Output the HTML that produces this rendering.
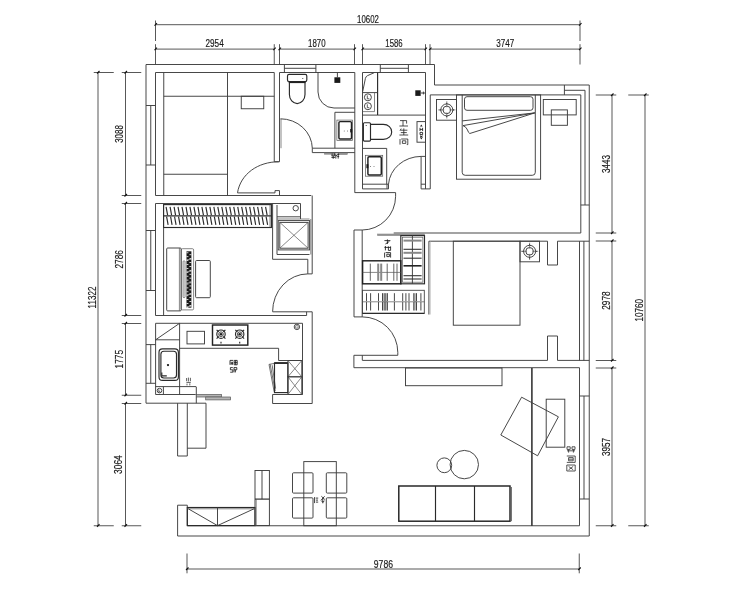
<!DOCTYPE html>
<html><head><meta charset="utf-8"><title>Floor plan</title>
<style>
html,body{margin:0;padding:0;background:#fff;}
svg{display:block;font-family:"Liberation Sans",sans-serif;filter:grayscale(1);}
.w{fill:none;stroke:#3e3e3e;stroke-width:0.95;}
.w2{fill:none;stroke:#2a2a2a;stroke-width:1.15;}
.w3{fill:none;stroke:#222;stroke-width:1.45;}
.wt{fill:none;stroke:#555;stroke-width:0.7;}
.wd{fill:none;stroke:#777;stroke-width:0.9;}
.d{fill:none;stroke:#3a3a3a;stroke-width:0.85;}
.h{fill:none;stroke:#2a2a2a;stroke-width:1.15;}
.f{fill:#1a1a1a;stroke:none;}
.g{fill:#9a9a9a;stroke:#777;stroke-width:0.5;}
.gf{fill:#b5b5b5;stroke:#555;stroke-width:0.7;}
.gb{fill:none;stroke:#555;stroke-width:0.9;}
.gb2{fill:none;stroke:#333;stroke-width:1.1;}
.gb3{fill:none;stroke:#888;stroke-width:2.0;}
.gbt{fill:none;stroke:#333;stroke-width:0.9;stroke-dasharray:8 0.9 9 0;}
.wdd{fill:none;stroke:#444;stroke-width:0.9;}
.gfill{fill:#bbb;stroke:none;}
.tiny path{fill:none;stroke:#2a2a2a;stroke-width:0.75;}
.tiny2 path{fill:none;stroke:#1a1a1a;stroke-width:0.85;}
.wt2{fill:none;stroke:#333;stroke-width:0.7;}
.tk{fill:none;stroke:#111;stroke-width:1.1;}
.vf{fill:none;stroke:#aaa;stroke-width:0.6;}
.gb4{fill:none;stroke:#222;stroke-width:1.6;}
.cjk path{fill:none;stroke:#222;stroke-width:0.8;}
.cjk2 path{fill:none;stroke:#2a2a2a;stroke-width:0.8;}
text{fill:#1a1a1a;stroke:#1a1a1a;stroke-width:0.2;}
.txt{opacity:0.999;}
</style></head>
<body>
<svg width="740" height="593" viewBox="0 0 740 593">
<rect x="0" y="0" width="740" height="593" fill="#fff"/>
<line class="d" x1="155.5" y1="24.7" x2="580" y2="24.7"/>
<line class="d" x1="155.5" y1="49.1" x2="274.25" y2="49.1"/>
<line class="d" x1="279.5" y1="49.1" x2="354.5" y2="49.1"/>
<line class="d" x1="362.5" y1="49.1" x2="425.5" y2="49.1"/>
<line class="d" x1="430" y1="49.1" x2="580" y2="49.1"/>
<line class="d" x1="155.5" y1="20.5" x2="155.5" y2="41"/>
<line class="tk" x1="154.5" y1="25.7" x2="157.0" y2="23.2"/>
<line class="d" x1="580" y1="20.5" x2="580" y2="41"/>
<line class="tk" x1="579.0" y1="25.7" x2="581.5" y2="23.2"/>
<line class="d" x1="155.5" y1="44.2" x2="155.5" y2="64.5"/>
<line class="tk" x1="154.5" y1="50.1" x2="157.0" y2="47.6"/>
<line class="d" x1="274.25" y1="44.2" x2="274.25" y2="64.5"/>
<line class="tk" x1="273.25" y1="50.1" x2="275.75" y2="47.6"/>
<line class="d" x1="279.5" y1="44.2" x2="279.5" y2="64.5"/>
<line class="tk" x1="278.5" y1="50.1" x2="281.0" y2="47.6"/>
<line class="d" x1="354.5" y1="44.2" x2="354.5" y2="64.5"/>
<line class="tk" x1="353.5" y1="50.1" x2="356.0" y2="47.6"/>
<line class="d" x1="362.5" y1="44.2" x2="362.5" y2="64.5"/>
<line class="tk" x1="361.5" y1="50.1" x2="364.0" y2="47.6"/>
<line class="d" x1="425.5" y1="44.2" x2="425.5" y2="64.5"/>
<line class="tk" x1="424.5" y1="50.1" x2="427.0" y2="47.6"/>
<line class="d" x1="430" y1="44.2" x2="430" y2="64.5"/>
<line class="tk" x1="429.0" y1="50.1" x2="431.5" y2="47.6"/>
<line class="d" x1="580" y1="44.2" x2="580" y2="64.5"/>
<line class="tk" x1="579.0" y1="50.1" x2="581.5" y2="47.6"/>
<text class="txt" x="368" y="22.6" text-anchor="middle" textLength="21.8" lengthAdjust="spacingAndGlyphs" font-size="11.7">10602</text>
<text class="txt" x="214.6" y="46.6" text-anchor="middle" textLength="18.2" lengthAdjust="spacingAndGlyphs" font-size="11.7">2954</text>
<text class="txt" x="316.8" y="46.6" text-anchor="middle" textLength="17.5" lengthAdjust="spacingAndGlyphs" font-size="11.7">1870</text>
<text class="txt" x="394" y="46.6" text-anchor="middle" textLength="17.3" lengthAdjust="spacingAndGlyphs" font-size="11.7">1586</text>
<text class="txt" x="505.2" y="46.6" text-anchor="middle" textLength="18" lengthAdjust="spacingAndGlyphs" font-size="11.7">3747</text>
<line class="d" x1="98" y1="72.5" x2="98" y2="525.75"/>
<line class="d" x1="125.5" y1="72.5" x2="125.5" y2="195.5"/>
<line class="d" x1="125.5" y1="203.5" x2="125.5" y2="315.5"/>
<line class="d" x1="125.5" y1="323.5" x2="125.5" y2="395.25"/>
<line class="d" x1="125.5" y1="403.5" x2="125.5" y2="525.75"/>
<line class="d" x1="93.75" y1="72.5" x2="113.75" y2="72.5"/>
<line class="tk" x1="97.0" y1="73.5" x2="99.5" y2="71.0"/>
<line class="d" x1="93.75" y1="525.75" x2="113.75" y2="525.75"/>
<line class="tk" x1="97.0" y1="526.75" x2="99.5" y2="524.25"/>
<line class="d" x1="121.75" y1="72.5" x2="141.25" y2="72.5"/>
<line class="tk" x1="124.5" y1="73.5" x2="127.0" y2="71.0"/>
<line class="d" x1="121.75" y1="195.5" x2="141.25" y2="195.5"/>
<line class="tk" x1="124.5" y1="196.5" x2="127.0" y2="194.0"/>
<line class="d" x1="121.75" y1="203.5" x2="141.25" y2="203.5"/>
<line class="tk" x1="124.5" y1="204.5" x2="127.0" y2="202.0"/>
<line class="d" x1="121.75" y1="315.5" x2="141.25" y2="315.5"/>
<line class="tk" x1="124.5" y1="316.5" x2="127.0" y2="314.0"/>
<line class="d" x1="121.75" y1="323.5" x2="141.25" y2="323.5"/>
<line class="tk" x1="124.5" y1="324.5" x2="127.0" y2="322.0"/>
<line class="d" x1="121.75" y1="395.25" x2="141.25" y2="395.25"/>
<line class="tk" x1="124.5" y1="396.25" x2="127.0" y2="393.75"/>
<line class="d" x1="121.75" y1="403.5" x2="141.25" y2="403.5"/>
<line class="tk" x1="124.5" y1="404.5" x2="127.0" y2="402.0"/>
<line class="d" x1="121.75" y1="525.75" x2="141.25" y2="525.75"/>
<line class="tk" x1="124.5" y1="526.75" x2="127.0" y2="524.25"/>
<text class="txt" x="95.6" y="297.5" text-anchor="middle" textLength="22" lengthAdjust="spacingAndGlyphs" font-size="11.7" transform="rotate(-90 95.6 297.5)">11322</text>
<text class="txt" x="123.2" y="134" text-anchor="middle" textLength="17.6" lengthAdjust="spacingAndGlyphs" font-size="11.7" transform="rotate(-90 123.2 134)">3088</text>
<text class="txt" x="123.2" y="259.3" text-anchor="middle" textLength="18.5" lengthAdjust="spacingAndGlyphs" font-size="11.7" transform="rotate(-90 123.2 259.3)">2786</text>
<text class="txt" x="122.8" y="359.2" text-anchor="middle" textLength="18.5" lengthAdjust="spacingAndGlyphs" font-size="11.7" transform="rotate(-90 122.8 359.2)">1775</text>
<text class="txt" x="122.4" y="464.6" text-anchor="middle" textLength="18.7" lengthAdjust="spacingAndGlyphs" font-size="11.7" transform="rotate(-90 122.4 464.6)">3064</text>
<line class="d" x1="645" y1="95" x2="645" y2="525.75"/>
<line class="d" x1="612" y1="95" x2="612" y2="233"/>
<line class="d" x1="612" y1="241" x2="612" y2="360.5"/>
<line class="d" x1="612" y1="368" x2="612" y2="525.75"/>
<line class="d" x1="595.75" y1="95" x2="616.25" y2="95"/>
<line class="tk" x1="611.0" y1="96.0" x2="613.5" y2="93.5"/>
<line class="d" x1="595.75" y1="233" x2="616.25" y2="233"/>
<line class="tk" x1="611.0" y1="234.0" x2="613.5" y2="231.5"/>
<line class="d" x1="595.75" y1="241" x2="616.25" y2="241"/>
<line class="tk" x1="611.0" y1="242.0" x2="613.5" y2="239.5"/>
<line class="d" x1="595.75" y1="360.5" x2="616.25" y2="360.5"/>
<line class="tk" x1="611.0" y1="361.5" x2="613.5" y2="359.0"/>
<line class="d" x1="595.75" y1="368" x2="616.25" y2="368"/>
<line class="tk" x1="611.0" y1="369.0" x2="613.5" y2="366.5"/>
<line class="d" x1="595.75" y1="525.75" x2="616.25" y2="525.75"/>
<line class="tk" x1="611.0" y1="526.75" x2="613.5" y2="524.25"/>
<line class="d" x1="628.25" y1="95" x2="648.75" y2="95"/>
<line class="tk" x1="644.0" y1="96.0" x2="646.5" y2="93.5"/>
<line class="d" x1="628.25" y1="525.75" x2="648.75" y2="525.75"/>
<line class="tk" x1="644.0" y1="526.75" x2="646.5" y2="524.25"/>
<text class="txt" x="610.4" y="164" text-anchor="middle" textLength="18" lengthAdjust="spacingAndGlyphs" font-size="11.7" transform="rotate(-90 610.4 164)">3443</text>
<text class="txt" x="610.4" y="300.5" text-anchor="middle" textLength="18.5" lengthAdjust="spacingAndGlyphs" font-size="11.7" transform="rotate(-90 610.4 300.5)">2978</text>
<text class="txt" x="610.4" y="447" text-anchor="middle" textLength="18" lengthAdjust="spacingAndGlyphs" font-size="11.7" transform="rotate(-90 610.4 447)">3957</text>
<text class="txt" x="643" y="310.3" text-anchor="middle" textLength="22.5" lengthAdjust="spacingAndGlyphs" font-size="11.7" transform="rotate(-90 643 310.3)">10760</text>
<line class="d" x1="187" y1="569" x2="579.25" y2="569"/>
<line class="d" x1="187" y1="553.5" x2="187" y2="573.3"/>
<line class="tk" x1="186.0" y1="570.0" x2="188.5" y2="567.5"/>
<line class="d" x1="579.25" y1="553.5" x2="579.25" y2="573.3"/>
<line class="tk" x1="578.25" y1="570.0" x2="580.75" y2="567.5"/>
<text class="txt" x="383.4" y="567.8" text-anchor="middle" textLength="19.2" lengthAdjust="spacingAndGlyphs" font-size="11.7">9786</text>
<path class="w" d="M146,403.2 L146,64.5 L434.5,64.5 L434.5,85 L589.25,85 L589.25,536 L177.6,536 L177.6,505.2 L187.3,505.2 L187.3,525.75" />
<line class="w" x1="187.3" y1="525.75" x2="579.5" y2="525.75"/>
<path class="w" d="M146,403.2 L206,403.2 L206,448.2 L187.3,448.2" />
<path class="w" d="M177.6,403.2 L177.6,456 L187.3,456 L187.3,403.2" />
<path class="w" d="M274.25,161.75 L274.25,72.5 L155.5,72.5 L155.5,195.5 L311.25,195.5" />
<line class="w" x1="146" y1="105.5" x2="155.5" y2="105.5"/>
<line class="w" x1="146" y1="165" x2="155.5" y2="165"/>
<line class="w" x1="150.75" y1="105.5" x2="150.75" y2="165"/>
<line class="w" x1="163.75" y1="72.5" x2="163.75" y2="195.5"/>
<line class="w" x1="227.5" y1="72.5" x2="227.5" y2="195.5"/>
<line class="w" x1="163.75" y1="96.25" x2="274.25" y2="96.25"/>
<line class="w" x1="163.75" y1="174.25" x2="227.5" y2="174.25"/>
<rect class="w" x="241.25" y="96.25" width="22.50" height="12.50" />
<path class="w" d="M279.5,72.5 L279.5,161.75 L274.25,161.75" />
<line class="wt" x1="281" y1="119" x2="281" y2="148.2"/>
<path class="w" d="M278.75,161.75 C 258,161.75 240.5,174 237.5,192.8" />
<path class="w" d="M237.5,192.9 L275,192.9" />
<path class="w" d="M275,192.9 L275,190.6 L279.5,190.6 L279.5,195.5" />
<line class="w" x1="155.5" y1="203.5" x2="300.5" y2="203.5"/>
<line class="w" x1="279.5" y1="72.5" x2="354.8" y2="72.5"/>
<line class="w" x1="284.4" y1="64.5" x2="284.4" y2="72.5"/>
<line class="w" x1="315.9" y1="64.5" x2="315.9" y2="72.5"/>
<line class="w" x1="284.4" y1="68.3" x2="315.9" y2="68.3"/>
<line class="w" x1="354.8" y1="72.5" x2="354.8" y2="192.7"/>
<line class="w" x1="362.5" y1="72.5" x2="362.5" y2="188.9"/>
<path class="w" d="M354.8,148.2 L312.3,148.2 L312.3,152.6 L354.8,152.6" />
<path class="w" d="M280.4,118.8 A32,30 0 0 1 312.3,148.2" />
<rect class="w2" x="287.5" y="74.4" width="19.30" height="7.10" rx="1.6" />
<line class="gb4" x1="288.6" y1="82.3" x2="305.8" y2="82.3"/>
<path class="w2" d="M289.4,83 V94.5 C289.4,99.6 293,103.6 297.2,103.6 S305,99.6 305,94.5 V83" />
<circle class="f" cx="302.8" cy="78.6" r="0.5"/>
<path class="w" d="M318,72.5 V92 A16,16 0 0 0 334,108 H354.8" />
<line class="w" x1="337.4" y1="72.5" x2="337.4" y2="77.3"/>
<rect class="f" x="334.4" y="77.3" width="5.90" height="5.60" />
<path class="w" d="M354.8,112.3 L334.9,112.3 L334.9,148.2" />
<rect class="wt" x="336.9" y="120.1" width="15.50" height="20.30" />
<rect class="w3" x="338.9" y="121.6" width="12.60" height="17.40" rx="1.2" />
<circle class="f" cx="344.2" cy="131" r="0.45"/>
<circle class="f" cx="347.6" cy="131" r="0.45"/>
<rect class="f" x="350.2" y="129" width="2.00" height="3.40" />
<rect class="g" x="338.8" y="153" width="8.60" height="1.60" />
<rect class="g" x="324.6" y="153" width="6.40" height="1.20" />
<g class="tiny2"><path d="M331.6,154h3.2M331.6,155.8h3.2M332,153.2v2.6M334.4,153.2v2.6M331.4,157.4h3.6M333.2,155.8v3M335.8,153.4v5.2M335.6,155.6h1.4M337.2,154.4h2M337.2,156.4h2M338.2,153.2v5.4"/></g>
<line class="w" x1="362.5" y1="72.5" x2="425.5" y2="72.5"/>
<line class="w" x1="380.3" y1="64.5" x2="380.3" y2="72.5"/>
<line class="w" x1="408.4" y1="64.5" x2="408.4" y2="72.5"/>
<line class="w" x1="380.3" y1="68.3" x2="408.4" y2="68.3"/>
<path class="w" d="M425.5,72.5 L425.5,188.9" />
<path class="w" d="M434.5,85 L434.5,85" />
<path class="w" d="M430.25,94.9 L430.25,188.9 L421.1,188.9 L421.1,156.4 L425.5,156.4" />
<line class="w" x1="421.1" y1="184.2" x2="425.5" y2="184.2"/>
<line class="w" x1="362.5" y1="115.1" x2="425.5" y2="115.1"/>
<line class="w2" x1="377.6" y1="72.5" x2="377.6" y2="115.1"/>
<path class="w" d="M362.7,91.6 L365.4,78.4 Q365.9,76.4 367.4,75.7 L374.4,72.6" />
<path class="w" d="M362.5,92.6 L377.5,92.6" />
<path class="wt" d="M374.5,92.6 L374.5,111.6 L362.5,111.6" />
<circle class="w" cx="367.9" cy="97.3" r="3.5"/>
<circle class="w" cx="367.9" cy="106.2" r="3.5"/>
<g class="tiny"><path d="M367.3,95.4v3.4h2M367.3,104.3v3.4h2"/></g>
<rect class="f" x="415.3" y="90.3" width="5.40" height="5.60" />
<line class="w" x1="420.7" y1="93" x2="425.5" y2="93"/>
<line class="w" x1="423.4" y1="91.6" x2="423.4" y2="94.4"/>
<rect class="w2" x="363.4" y="122.7" width="7.10" height="18.40" rx="1" />
<path class="w2" d="M370.5,124.4 h12.8 c5,0 8.4,3.4 8.4,7.5 s-3.4,7.5 -8.4,7.5 h-12.8" />
<circle class="f" cx="366.2" cy="125.6" r="0.5"/>
<rect class="w" x="417" y="121.6" width="8.50" height="20.60" />
<path class="f" d="M421.3,124.4 l1.3,2.2 h-2.6 z" />
<path class="f" d="M421.3,139.6 l1.3,-2.2 h-2.6 z" />
<g class="tiny2"><path d="M420,127.8v3.2M422.6,127.8v3.2M420,129.4h2.6M420,132.4h2.6v2.2h-2.6zM420,135.8l2.6,1.4M422.6,135.8l-2.6,1.4"/></g>
<path class="w" d="M362.5,184.2 L387,184.2" />
<path class="w" d="M362.5,188.9 L388.5,188.9 L388.5,184.2 L387,184.2 L387,188.9" />
<path class="w" d="M362.5,148.4 L386.7,148.4 L386.7,184.2" />
<rect class="wt" x="365.4" y="155.3" width="17.30" height="20.90" />
<rect class="w3" x="367.9" y="156.7" width="13.40" height="18.20" rx="1.2" />
<circle class="f" cx="370.6" cy="166.5" r="0.45"/>
<circle class="f" cx="374" cy="166.5" r="0.45"/>
<rect class="f" x="366.4" y="164.2" width="2.00" height="4.00" />
<path class="w" d="M421.1,156.4 A33,30 0 0 0 388.5,184.2" />
<g class="cjk"><path d="M400,120.6h6.6v3 M403,120.6v5.4 M399.4,126h8.6"/><path d="M401.2,128.6l-1.2,2 M400.4,130.2h7 M403.8,128.4v6.6 M400.8,132.6h6 M399.4,135h8.8"/><path d="M400,139v5.6 M401.2,139h6.6v5.6h-1 M402.4,140.8h3.4v2.6h-3.4z"/></g>
<line class="w" x1="354.8" y1="192.6" x2="395.6" y2="192.6"/>
<path class="w" d="M395.6,192.6 V196.3 A33.4,33.8 0 0 1 362.2,230" />
<path class="w" d="M354.0,316.9 L354.0,230 L362.2,230 L362.2,316.9 L354.0,316.9" />
<path class="w" d="M362.2,316.9 A35.5,35.4 0 0 1 397.8,352.3 V355.3" />
<line class="w" x1="353.9" y1="355.3" x2="397.8" y2="355.3"/>
<line class="w" x1="362.3" y1="355.3" x2="362.3" y2="360.3"/>
<line class="w" x1="430.25" y1="94.9" x2="580.8" y2="94.9"/>
<path class="w" d="M580.8,94.9 L580.8,233 L393.7,233" />
<line class="w" x1="585" y1="90.3" x2="585" y2="205"/>
<line class="w" x1="580.8" y1="205" x2="589.25" y2="205"/>
<path class="w" d="M564.4,85 L564.4,94.9" />
<line class="w" x1="564.4" y1="90.3" x2="585" y2="90.3"/>
<rect class="w" x="436.5" y="99.5" width="20.00" height="20.70" />
<circle class="w" cx="446.8" cy="109.9" r="6.0"/>
<circle class="w" cx="446.8" cy="109.9" r="3.8"/>
<line class="wt" x1="449.40000000000003" y1="109.9" x2="455.40000000000003" y2="109.9"/>
<circle class="f" cx="453.40000000000003" cy="109.9" r="0.55"/>
<line class="wt" x1="444.2" y1="109.9" x2="438.2" y2="109.9"/>
<circle class="f" cx="440.2" cy="109.9" r="0.55"/>
<line class="wt" x1="446.8" y1="112.5" x2="446.8" y2="118.5"/>
<circle class="f" cx="446.8" cy="116.5" r="0.55"/>
<line class="wt" x1="446.8" y1="107.30000000000001" x2="446.8" y2="101.30000000000001"/>
<circle class="f" cx="446.8" cy="103.30000000000001" r="0.55"/>
<rect class="w" x="456.5" y="94.9" width="84.10" height="84.30" />
<path class="w" d="M462.2,94.9 V172.3 a3,3 0 0 0 3,3 H532.3 a3,3 0 0 0 3,-3 V94.9" />
<rect class="w" x="464.5" y="96.7" width="68.50" height="13.60" rx="2.5" />
<path class="w" d="M534.8,112.9 L462.2,120.9 M534.8,112.9 L463,125.6 Q466.5,127 467.5,130 T469.8,133.5 L534.8,112.9" />
<rect class="w" x="543.3" y="99.5" width="32.90" height="15.40" />
<rect class="w" x="551.3" y="109.9" width="16.10" height="15.40" />
<path class="w" d="M428.9,241.2 L547.5,241.2 L547.5,265 L557.5,265 L557.5,241.2 L589.25,241.2" />
<line class="w" x1="428.9" y1="241.2" x2="428.9" y2="314.5"/>
<line class="vf" x1="430.3" y1="241.2" x2="430.3" y2="314.5"/>
<rect class="w" x="453.3" y="241.2" width="66.70" height="84.00" />
<rect class="w" x="520" y="241.2" width="19.50" height="20.60" />
<circle class="w" cx="529.6" cy="251.3" r="6.0"/>
<circle class="w" cx="529.6" cy="251.3" r="3.8"/>
<line class="wt" x1="532.2" y1="251.3" x2="538.2" y2="251.3"/>
<circle class="f" cx="536.2" cy="251.3" r="0.55"/>
<line class="wt" x1="527.0" y1="251.3" x2="521.0" y2="251.3"/>
<circle class="f" cx="523.0" cy="251.3" r="0.55"/>
<line class="wt" x1="529.6" y1="253.9" x2="529.6" y2="259.90000000000003"/>
<circle class="f" cx="529.6" cy="257.90000000000003" r="0.55"/>
<line class="wt" x1="529.6" y1="248.70000000000002" x2="529.6" y2="242.70000000000002"/>
<circle class="f" cx="529.6" cy="244.70000000000002" r="0.55"/>
<line class="w" x1="579.5" y1="241.2" x2="579.5" y2="360.5"/>
<line class="w" x1="583.9" y1="241.2" x2="583.9" y2="360.5"/>
<path class="w" d="M362.3,360.4 L547.5,360.4 L547.5,336 L557.5,336 L557.5,360.4 L589.25,360.4" />
<path class="w" d="M353.9,355.3 L353.9,367.7 L579.5,367.7 L579.5,396 L589.25,396" />
<rect class="g" x="377.7" y="234" width="46.80" height="1.60" />
<rect class="w2" x="400.8" y="235.6" width="23.70" height="48.20" />
<rect class="wt" x="402.4" y="237.2" width="20.50" height="45.00" />
<line class="w" x1="412.4" y1="235.6" x2="412.4" y2="283.8"/>
<line class="gb3" x1="403.5" y1="240.6" x2="421.6" y2="240.6"/>
<line class="gb2" x1="403.5" y1="249.3" x2="421.6" y2="249.3"/>
<line class="gb3" x1="403.5" y1="252.8" x2="421.6" y2="252.8"/>
<line class="gb2" x1="403.5" y1="258.2" x2="421.6" y2="258.2"/>
<line class="gb4" x1="403.5" y1="265.8" x2="421.6" y2="265.8"/>
<line class="gb2" x1="403.5" y1="275.7" x2="421.6" y2="275.7"/>
<line class="gb2" x1="403.5" y1="279" x2="421.6" y2="279"/>
<rect class="w3" x="362.6" y="260.8" width="38.20" height="23.00" />
<line class="wt" x1="362.6" y1="272.4" x2="400.8" y2="272.4"/>
<line class="gb" x1="370.3" y1="263.6" x2="370.3" y2="280.8"/>
<line class="gb3" x1="378.2" y1="263.6" x2="378.2" y2="280.8"/>
<line class="gb3" x1="381.2" y1="263.6" x2="381.2" y2="280.8"/>
<line class="gb" x1="387.2" y1="263.6" x2="387.2" y2="280.8"/>
<line class="gb" x1="393.8" y1="263.6" x2="393.8" y2="280.8"/>
<line class="gb" x1="397" y1="263.6" x2="397" y2="280.8"/>
<rect class="wdd" x="362.5" y="290.3" width="61.80" height="23.10" />
<line class="w2" x1="362.5" y1="313.4" x2="424.3" y2="313.4"/>
<rect class="gfill" x="382.5" y="293.2" width="4.90" height="17.30" />
<rect class="gfill" x="413.8" y="293.2" width="2.70" height="17.30" />
<line class="wt" x1="362.5" y1="301.8" x2="424.3" y2="301.8"/>
<line class="gbt" x1="366.5" y1="293.2" x2="366.5" y2="310.5"/>
<line class="gbt" x1="370.6" y1="293.2" x2="370.6" y2="310.5"/>
<line class="gbt" x1="378.5" y1="293.2" x2="378.5" y2="310.5"/>
<line class="gbt" x1="382.5" y1="293.2" x2="382.5" y2="310.5"/>
<line class="gbt" x1="385" y1="293.2" x2="385" y2="310.5"/>
<line class="gbt" x1="387.4" y1="293.2" x2="387.4" y2="310.5"/>
<line class="gbt" x1="394.4" y1="293.2" x2="394.4" y2="310.5"/>
<line class="gbt" x1="402.7" y1="293.2" x2="402.7" y2="310.5"/>
<line class="gbt" x1="405.9" y1="293.2" x2="405.9" y2="310.5"/>
<line class="gbt" x1="409" y1="293.2" x2="409" y2="310.5"/>
<line class="gbt" x1="413.8" y1="293.2" x2="413.8" y2="310.5"/>
<line class="gbt" x1="416.5" y1="293.2" x2="416.5" y2="310.5"/>
<line class="gbt" x1="420.9" y1="293.2" x2="420.9" y2="310.5"/>
<g class="tiny2" transform="translate(-0.6,0)"><path d="M385,240.6h6M388,239.4v4.6M386,244l4,-2.6M385,247.4h6.4M386,246v4.4M389,246.4v4h2.2v-4M385.2,252.6v5M386.2,252.6h5v5M387.4,254.2h2.6v2.4h-2.6z"/></g>
<path class="w" d="M155.5,203.5 L155.5,315.5" />
<line class="w" x1="155.5" y1="315.5" x2="306.6" y2="315.5"/>
<line class="w" x1="146" y1="230.5" x2="155.5" y2="230.5"/>
<line class="w" x1="146" y1="290.5" x2="155.5" y2="290.5"/>
<line class="w" x1="150.75" y1="230.5" x2="150.75" y2="290.5"/>
<rect class="w2" x="163.6" y="204.6" width="107.80" height="22.90" />
<line class="w2" x1="163.6" y1="215.9" x2="271.4" y2="215.9"/>
<line class="wt" x1="270.0" y1="204.6" x2="270.0" y2="227.5"/>
<line class="h" x1="166.1" y1="206.8" x2="167.6" y2="215.2"/>
<line class="h" x1="166.6" y1="216.6" x2="168.1" y2="224.9"/>
<line class="h" x1="170.07999999999998" y1="206.8" x2="171.57999999999998" y2="215.2"/>
<line class="h" x1="170.57999999999998" y1="216.6" x2="172.07999999999998" y2="224.9"/>
<line class="h" x1="174.05999999999997" y1="206.8" x2="175.55999999999997" y2="215.2"/>
<line class="h" x1="174.55999999999997" y1="216.6" x2="176.05999999999997" y2="224.9"/>
<line class="h" x1="178.03999999999996" y1="206.8" x2="179.53999999999996" y2="215.2"/>
<line class="h" x1="178.53999999999996" y1="216.6" x2="180.03999999999996" y2="224.9"/>
<line class="h" x1="182.01999999999995" y1="206.8" x2="183.51999999999995" y2="215.2"/>
<line class="h" x1="182.51999999999995" y1="216.6" x2="184.01999999999995" y2="224.9"/>
<line class="h" x1="185.99999999999994" y1="206.8" x2="187.49999999999994" y2="215.2"/>
<line class="h" x1="186.49999999999994" y1="216.6" x2="187.99999999999994" y2="224.9"/>
<line class="h" x1="189.97999999999993" y1="206.8" x2="191.47999999999993" y2="215.2"/>
<line class="h" x1="190.47999999999993" y1="216.6" x2="191.97999999999993" y2="224.9"/>
<line class="h" x1="193.95999999999992" y1="206.8" x2="195.45999999999992" y2="215.2"/>
<line class="h" x1="194.45999999999992" y1="216.6" x2="195.95999999999992" y2="224.9"/>
<line class="h" x1="197.9399999999999" y1="206.8" x2="199.4399999999999" y2="215.2"/>
<line class="h" x1="198.4399999999999" y1="216.6" x2="199.9399999999999" y2="224.9"/>
<line class="h" x1="201.9199999999999" y1="206.8" x2="203.4199999999999" y2="215.2"/>
<line class="h" x1="202.4199999999999" y1="216.6" x2="203.9199999999999" y2="224.9"/>
<line class="h" x1="205.8999999999999" y1="206.8" x2="207.3999999999999" y2="215.2"/>
<line class="h" x1="206.3999999999999" y1="216.6" x2="207.8999999999999" y2="224.9"/>
<line class="h" x1="209.87999999999988" y1="206.8" x2="211.37999999999988" y2="215.2"/>
<line class="h" x1="210.37999999999988" y1="216.6" x2="211.87999999999988" y2="224.9"/>
<line class="h" x1="213.85999999999987" y1="206.8" x2="215.35999999999987" y2="215.2"/>
<line class="h" x1="214.35999999999987" y1="216.6" x2="215.85999999999987" y2="224.9"/>
<line class="h" x1="217.83999999999986" y1="206.8" x2="219.33999999999986" y2="215.2"/>
<line class="h" x1="218.33999999999986" y1="216.6" x2="219.83999999999986" y2="224.9"/>
<line class="h" x1="221.81999999999985" y1="206.8" x2="223.31999999999985" y2="215.2"/>
<line class="h" x1="222.31999999999985" y1="216.6" x2="223.81999999999985" y2="224.9"/>
<line class="h" x1="225.79999999999984" y1="206.8" x2="227.29999999999984" y2="215.2"/>
<line class="h" x1="226.29999999999984" y1="216.6" x2="227.79999999999984" y2="224.9"/>
<line class="h" x1="229.77999999999983" y1="206.8" x2="231.27999999999983" y2="215.2"/>
<line class="h" x1="230.27999999999983" y1="216.6" x2="231.77999999999983" y2="224.9"/>
<line class="h" x1="233.75999999999982" y1="206.8" x2="235.25999999999982" y2="215.2"/>
<line class="h" x1="234.25999999999982" y1="216.6" x2="235.75999999999982" y2="224.9"/>
<line class="h" x1="237.7399999999998" y1="206.8" x2="239.2399999999998" y2="215.2"/>
<line class="h" x1="238.2399999999998" y1="216.6" x2="239.7399999999998" y2="224.9"/>
<line class="h" x1="241.7199999999998" y1="206.8" x2="243.2199999999998" y2="215.2"/>
<line class="h" x1="242.2199999999998" y1="216.6" x2="243.7199999999998" y2="224.9"/>
<line class="h" x1="245.6999999999998" y1="206.8" x2="247.1999999999998" y2="215.2"/>
<line class="h" x1="246.1999999999998" y1="216.6" x2="247.6999999999998" y2="224.9"/>
<line class="h" x1="249.67999999999978" y1="206.8" x2="251.17999999999978" y2="215.2"/>
<line class="h" x1="250.17999999999978" y1="216.6" x2="251.67999999999978" y2="224.9"/>
<line class="h" x1="253.65999999999977" y1="206.8" x2="255.15999999999977" y2="215.2"/>
<line class="h" x1="254.15999999999977" y1="216.6" x2="255.65999999999977" y2="224.9"/>
<line class="h" x1="257.63999999999976" y1="206.8" x2="259.13999999999976" y2="215.2"/>
<line class="h" x1="258.13999999999976" y1="216.6" x2="259.63999999999976" y2="224.9"/>
<line class="h" x1="261.6199999999998" y1="206.8" x2="263.1199999999998" y2="215.2"/>
<line class="h" x1="262.1199999999998" y1="216.6" x2="263.6199999999998" y2="224.9"/>
<line class="h" x1="265.5999999999998" y1="206.8" x2="267.0999999999998" y2="215.2"/>
<line class="h" x1="266.0999999999998" y1="216.6" x2="267.5999999999998" y2="224.9"/>
<line class="w" x1="163.6" y1="227.5" x2="163.6" y2="315.5"/>
<rect class="w" x="166.7" y="248" width="14.50" height="62.90" rx="1" />
<line class="wt" x1="179.4" y1="248" x2="179.4" y2="310.9"/>
<rect class="wt" x="181.2" y="248.7" width="12.40" height="61.20" rx="1.2" />
<rect class="wt" x="183.1" y="260.8" width="1.90" height="36.90" rx="0.9" />
<rect class="f" x="186.5" y="251.3" width="4.90" height="56.40" />
<rect x="186.5" y="252.40" width="1.9" height="0.8" fill="#fff"/>
<rect x="189.4" y="254.35" width="2.0" height="0.8" fill="#fff"/>
<rect x="186.5" y="256.30" width="1.9" height="0.8" fill="#fff"/>
<rect x="189.4" y="258.25" width="2.0" height="0.8" fill="#fff"/>
<rect x="186.5" y="259.25" width="4.9" height="0.6" fill="#ddd"/>
<rect x="186.5" y="260.20" width="1.9" height="0.8" fill="#fff"/>
<rect x="189.4" y="262.15" width="2.0" height="0.8" fill="#fff"/>
<rect x="186.5" y="264.10" width="1.9" height="0.8" fill="#fff"/>
<rect x="189.4" y="266.05" width="2.0" height="0.8" fill="#fff"/>
<rect x="186.5" y="268.00" width="1.9" height="0.8" fill="#fff"/>
<rect x="189.4" y="269.95" width="2.0" height="0.8" fill="#fff"/>
<rect x="186.5" y="270.95" width="4.9" height="0.6" fill="#ddd"/>
<rect x="186.5" y="271.90" width="1.9" height="0.8" fill="#fff"/>
<rect x="189.4" y="273.85" width="2.0" height="0.8" fill="#fff"/>
<rect x="186.5" y="275.80" width="1.9" height="0.8" fill="#fff"/>
<rect x="189.4" y="277.75" width="2.0" height="0.8" fill="#fff"/>
<rect x="186.5" y="279.70" width="1.9" height="0.8" fill="#fff"/>
<rect x="189.4" y="281.65" width="2.0" height="0.8" fill="#fff"/>
<rect x="186.5" y="282.65" width="4.9" height="0.6" fill="#ddd"/>
<rect x="186.5" y="283.60" width="1.9" height="0.8" fill="#fff"/>
<rect x="189.4" y="285.55" width="2.0" height="0.8" fill="#fff"/>
<rect x="186.5" y="287.50" width="1.9" height="0.8" fill="#fff"/>
<rect x="189.4" y="289.45" width="2.0" height="0.8" fill="#fff"/>
<rect x="186.5" y="291.40" width="1.9" height="0.8" fill="#fff"/>
<rect x="189.4" y="293.35" width="2.0" height="0.8" fill="#fff"/>
<rect x="186.5" y="294.35" width="4.9" height="0.6" fill="#ddd"/>
<rect x="186.5" y="295.30" width="1.9" height="0.8" fill="#fff"/>
<rect x="189.4" y="297.25" width="2.0" height="0.8" fill="#fff"/>
<rect x="186.5" y="299.20" width="1.9" height="0.8" fill="#fff"/>
<rect x="189.4" y="301.15" width="2.0" height="0.8" fill="#fff"/>
<rect x="186.5" y="303.10" width="1.9" height="0.8" fill="#fff"/>
<rect x="189.4" y="305.05" width="2.0" height="0.8" fill="#fff"/>
<rect x="186.5" y="306.05" width="4.9" height="0.6" fill="#ddd"/>
<rect x="186.5" y="307.00" width="1.9" height="0.8" fill="#fff"/>
<rect class="w" x="195.6" y="260.5" width="14.70" height="37.20" rx="1" />
<path class="w" d="M272.6,203.5 L272.6,259.3 L307.8,259.3 L307.8,273.9 L312.2,273.9 L312.2,195.5" />
<path class="w" d="M277,205 L277,254.5 L309.5,254.5" />
<line class="w" x1="277" y1="216.8" x2="300.5" y2="216.8"/>
<line class="w" x1="300.5" y1="203.5" x2="300.5" y2="219"/>
<line class="wt" x1="277" y1="219" x2="309.5" y2="219"/>
<circle class="w" cx="295.7" cy="208.2" r="2.7"/>
<rect class="w" x="278.2" y="220.6" width="31.40" height="29.30" />
<rect class="w" x="279.8" y="222.4" width="28.30" height="25.80" />
<line class="wt" x1="279.8" y1="222.4" x2="308.1" y2="248.2"/>
<line class="wt" x1="308.1" y1="222.4" x2="279.8" y2="248.2"/>
<line class="wt" x1="310.8" y1="219" x2="310.8" y2="254.5"/>
<path class="w" d="M307.8,273.9 A35.2,37.8 0 0 0 272.6,311.7" />
<path class="w" d="M272.6,311.8 L312.2,311.8" />
<line class="w" x1="306.6" y1="311.8" x2="306.6" y2="315.5"/>
<line class="w" x1="312.2" y1="311.8" x2="312.2" y2="403.5"/>
<path class="w" d="M302.5,394.5 L302.5,323.3 L155.6,323.3 L155.6,394.5 L195.7,394.5" />
<path class="w" d="M196.3,387 L196.3,403.2" />
<path class="w" d="M312.2,403.5 L272.6,403.5 L272.6,394.5 L302.5,394.5" />
<line class="w" x1="146" y1="344.6" x2="155.6" y2="344.6"/>
<line class="w" x1="146" y1="383.3" x2="155.6" y2="383.3"/>
<line class="w" x1="150.75" y1="344.6" x2="150.75" y2="383.3"/>
<path class="w" d="M179.6,323.3 L179.6,394.5" />
<path class="w" d="M179.6,348.3 L278.6,348.3 L278.6,360.5 L301.8,360.5" />
<path class="w" d="M155.6,339.8 L179.6,339.8" />
<line class="w" x1="155.6" y1="339.8" x2="179.6" y2="323.3"/>
<rect class="w" x="187" y="331.3" width="17.50" height="12.60" />
<rect class="w3" x="212.5" y="325" width="35.30" height="20.10" />
<circle class="w2" cx="221" cy="334.2" r="4.2"/>
<circle class="w" cx="221" cy="334.2" r="2.3"/>
<circle class="f" cx="221" cy="334.2" r="1.25"/>
<line class="w2" x1="223.26274169979695" y1="336.46274169979694" x2="225.3840620433566" y2="338.5840620433566"/>
<line class="w2" x1="218.73725830020305" y1="336.46274169979694" x2="216.6159379566434" y2="338.5840620433566"/>
<line class="w2" x1="218.73725830020305" y1="331.93725830020304" x2="216.6159379566434" y2="329.8159379566434"/>
<line class="w2" x1="223.26274169979695" y1="331.93725830020304" x2="225.3840620433566" y2="329.8159379566434"/>
<line class="w2" x1="221" y1="341.8" x2="221" y2="343.4"/>
<circle class="w2" cx="239.7" cy="334.2" r="4.2"/>
<circle class="w" cx="239.7" cy="334.2" r="2.3"/>
<circle class="f" cx="239.7" cy="334.2" r="1.25"/>
<line class="w2" x1="241.96274169979694" y1="336.46274169979694" x2="244.0840620433566" y2="338.5840620433566"/>
<line class="w2" x1="237.43725830020304" y1="336.46274169979694" x2="235.31593795664338" y2="338.5840620433566"/>
<line class="w2" x1="237.43725830020304" y1="331.93725830020304" x2="235.31593795664338" y2="329.8159379566434"/>
<line class="w2" x1="241.96274169979694" y1="331.93725830020304" x2="244.0840620433566" y2="329.8159379566434"/>
<line class="w2" x1="239.7" y1="341.8" x2="239.7" y2="343.4"/>
<circle class="w" cx="296.9" cy="326.9" r="2.7"/>
<circle class="wt" cx="296.9" cy="326.9" r="1.4"/>
<rect class="w2" x="159" y="348.8" width="19.40" height="31.60" rx="3.5" />
<rect class="w2" x="160.9" y="351.2" width="15.60" height="26.80" rx="3" />
<circle class="f" cx="168" cy="365.1" r="1.15"/>
<path class="w2" d="M161.8,372.5v3.3h5" />
<line class="w" x1="155.6" y1="386.6" x2="196.3" y2="386.6"/>
<line class="w" x1="163.4" y1="386.6" x2="163.4" y2="394.5"/>
<circle class="w" cx="159.5" cy="390.6" r="2.3"/>
<g class="tiny"><path d="M158.9,389.4v2.4h1.4"/></g>
<g class="tiny"><path d="M186.6,378v3.2M188.4,377.6v3.8M190.4,377.8v3.4M186.4,382.4h4.4M187,383.6v1.8M189.8,383.4v2"/></g>
<rect class="gf" x="196.4" y="394.5" width="25.10" height="2.50" />
<rect class="gf" x="205.7" y="397" width="24.90" height="2.90" />
<rect class="w" x="287.9" y="360.5" width="13.90" height="16.30" />
<rect class="w" x="287.9" y="376.8" width="13.90" height="17.70" />
<line class="wt" x1="287.9" y1="360.5" x2="301.8" y2="376.8"/>
<line class="wt" x1="301.8" y1="360.5" x2="287.9" y2="376.8"/>
<line class="wt" x1="287.9" y1="376.8" x2="301.8" y2="394.5"/>
<line class="wt" x1="301.8" y1="376.8" x2="287.9" y2="394.5"/>
<rect class="w2" x="274.5" y="362.9" width="13.40" height="29.70" />
<path class="wt2" d="M269,364.4 L274.2,391.8 M270.2,364.4 L275.2,391 M272.2,365.2 L275.6,388.6 M269,364.4 L274.5,363.4" />
<line class="gb4" x1="274.5" y1="363.1" x2="287.5" y2="363.1"/>
<g class="tiny2"><path d="M230,360.4v4.4M230,360.4h3.2M231.2,361.8v3M232.6,361.8v3M231.2,363.2h1.6M234.2,360.4h3v4.4h-3zM234.2,362.6h3M235.6,360.4v4.4 M230.4,367.6h2.4M230.4,367.6v2.2h2.4v2.4h-2.6M234,367.4v5M234,367.6h2.8v2.2h-2.8M235.4,369.8v2.6"/></g>
<rect class="w" x="405.5" y="368" width="96.50" height="17.70" />
<line class="w3" x1="531.9" y1="368" x2="531.9" y2="525.75"/>
<path class="w" d="M521.6,397.2 L558.4,416.8 L537.6,455.8 L500.8,435 Z" />
<rect class="w" x="546.2" y="399.2" width="18.60" height="48.00" />
<line class="w" x1="579.5" y1="396" x2="579.5" y2="525.75"/>
<line class="w" x1="584" y1="396" x2="584" y2="499"/>
<line class="w" x1="579.5" y1="499" x2="589.25" y2="499"/>
<circle class="w" cx="444.3" cy="465.3" r="7.4"/>
<circle class="w" cx="464.3" cy="464.6" r="14.2"/>
<rect class="w3" x="398.8" y="486" width="111.20" height="35.20" />
<line class="w2" x1="435.5" y1="486" x2="435.5" y2="521.2"/>
<line class="w2" x1="474.5" y1="486" x2="474.5" y2="521.2"/>
<line class="gb" x1="511.4" y1="487" x2="511.4" y2="521.2"/>
<rect class="w" x="303.8" y="461.6" width="32.50" height="64.15" />
<rect class="w" x="292.5" y="472.8" width="20.50" height="20.30" rx="1" />
<rect class="w" x="326.3" y="472.8" width="20.50" height="20.30" rx="1" />
<rect class="w" x="292.5" y="497.8" width="20.50" height="20.30" rx="1" />
<rect class="w" x="326.3" y="497.8" width="20.50" height="20.30" rx="1" />
<g class="tiny2" transform="translate(0,0.7)"><path d="M314.6,496.4v6M315.8,497.4h2.4M316,499.4h2M316,501.4h2.2M321.4,495.6l3.4,3.2M324.6,495.6l-3.6,4M322.8,497.6v5M321.4,500l1.4,1.6M324.4,500l-1.4,1.6"/></g>
<rect class="w2" x="187.3" y="507.5" width="67.70" height="18.10" />
<line class="wt" x1="187.3" y1="508.8" x2="255" y2="508.8"/>
<line class="w" x1="217.5" y1="507.5" x2="217.5" y2="525.6"/>
<line class="w" x1="188.3" y1="508.8" x2="217.5" y2="525.6"/>
<line class="w" x1="254" y1="508.8" x2="217.5" y2="525.6"/>
<rect class="w" x="255" y="470.5" width="14.40" height="55.10" />
<line class="w" x1="262" y1="470.5" x2="262" y2="499.1"/>
<line class="w2" x1="255" y1="499.1" x2="269.4" y2="499.1"/>
<line class="wt" x1="256.2" y1="499.1" x2="256.2" y2="525.6"/>
<g class="cjk2"><path d="M567,446.8h3.2v2.6h-3.2zM572,446.8h3v2.6h-3zM567,450.8h8M568.6,449.6v3M573.4,449.6v3 M566.8,456h8.4v6.4h-8.4M568.6,457.6h4.6v3.2h-4.6zM568.6,459.2h4.6 M566.8,465h8.4v6h-8.4zM568.6,466.4l4.6,3.4M573.2,466.4l-4.6,3.4"/></g>
</svg>
</body></html>
